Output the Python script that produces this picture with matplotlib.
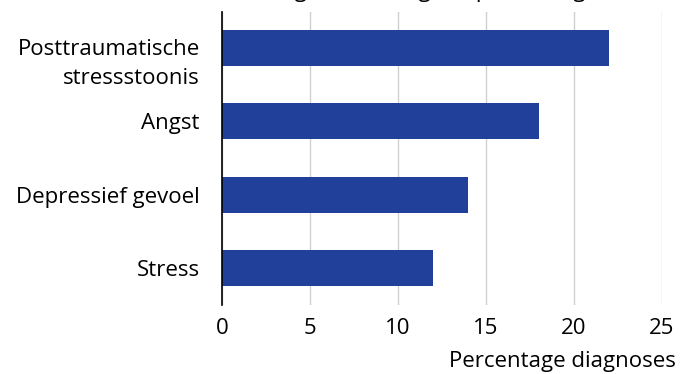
import matplotlib
matplotlib.use("Agg")
import matplotlib.pyplot as plt
from matplotlib.transforms import ScaledTranslation

categories = ["Stress", "Depressief gevoel", "Angst", "Posttraumatische\nstressstoonis"]
values = [12, 14, 18, 22]
xticks = [0, 5, 10, 15, 20, 25]
title = "Resultaten van de diagnosestelling (hulpverlening)"
xlabel = "Percentage diagnoses"

plt.rcParams['font.family'] = ['Open Sans', 'DejaVu Sans']
FS = 16

fig = plt.figure(figsize=(6.8, 3.74), dpi=100)
ax = fig.add_axes([222/680, 1 - 304.5/374, 440/680, 293/374])

ax.barh(range(len(categories)), values, height=0.49, color="#21409A", zorder=3)
ax.set_ylim(-0.5, 3.5)
ax.set_xlim(0, 25)
ax.set_xticks(xticks)
ax.set_xticklabels([str(t) for t in xticks], fontsize=FS)
ax.set_yticks(range(len(categories)))
ax.set_yticklabels(categories, fontsize=FS)
ax.tick_params(axis='both', length=0)
ax.tick_params(axis='x', pad=10)
ax.tick_params(axis='y', pad=16)
ax.grid(axis='x', color="#d0d0d0", linewidth=1, zorder=0)
for s in ["top", "right", "bottom"]:
    ax.spines[s].set_visible(False)
ax.spines["left"].set_color("black")
ax.spines["left"].set_linewidth(1.2)
ax.spines["left"].set_zorder(4)

# two-line label: wider line spacing and shifted down as in reference
lab = ax.get_yticklabels()[-1]
lab.set_linespacing(1.5)
lab.set_transform(lab.get_transform() + ScaledTranslation(0, -9/100, fig.dpi_scale_trans))

fig.text(676/680, 1 - 362/374, xlabel, ha="right", va="center", fontsize=FS)
fig.text(332/680, 1 + 8/374, title, ha="center", va="center", fontsize=FS)

fig.savefig("out.png", dpi=100)
